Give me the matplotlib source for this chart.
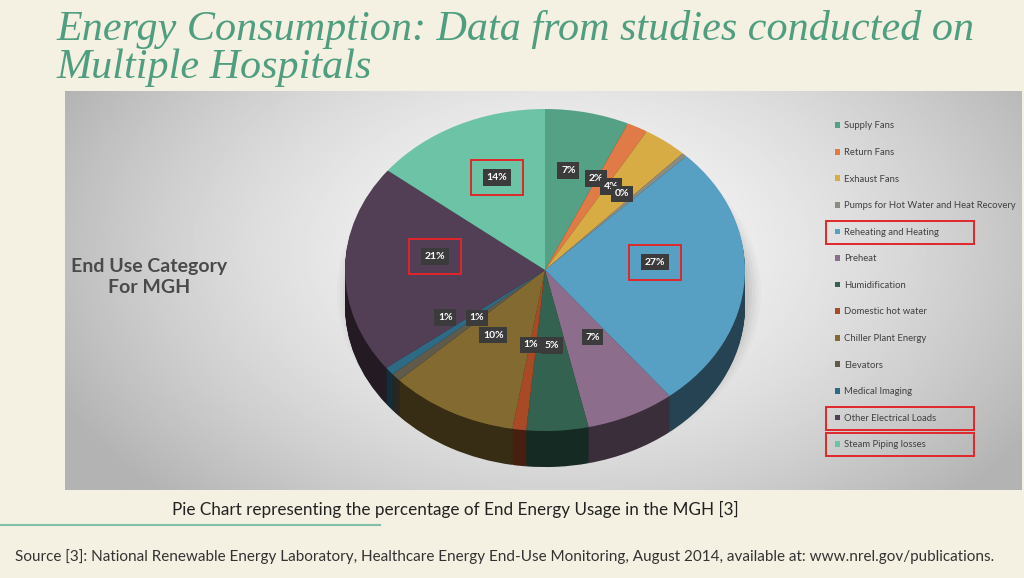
import matplotlib
matplotlib.use("Agg")
import matplotlib.pyplot as plt
import numpy as np
from matplotlib.colors import to_rgb
from matplotlib.patches import Rectangle, Ellipse

# End use categories for MGH, clockwise from the top
categories = [
    "Supply Fans",
    "Return Fans",
    "Exhaust Fans",
    "Pumps for Hot Water and Heat Recovery",
    "Reheating and Heating",
    "Preheat",
    "Humidification",
    "Domestic hot water",
    "Chiller Plant Energy",
    "Elevators",
    "Medical Imaging",
    "Other Electrical Loads",
    "Steam Piping losses",
]
shares = [6.8, 1.7, 3.6, 0.4, 26.8, 7.2, 5.0, 1.1, 10.4, 0.8, 0.8, 21.0, 14.4]
colors = [
    "#55a185", "#e07b47", "#d8ac45", "#8c8c80", "#57a0c4", "#8c6d8c",
    "#336350", "#a84a25", "#826a31", "#5f5a4a", "#2f6a85", "#533f55",
    "#6cc3a6",
]
highlighted = ["Reheating and Heating", "Other Electrical Loads", "Steam Piping losses"]
highlighted_pct = [4, 11, 12]  # slices whose labels get a red box

title_lines = ["Energy Consumption: Data from studies conducted on", "Multiple Hospitals"]
side_title = "End Use Category\nFor MGH"
caption = "Pie Chart representing the percentage of End Energy Usage in the MGH [3]"
source = ("Source [3]: National Renewable Energy Laboratory, Healthcare Energy End-Use "
          "Monitoring, August 2014, available at: www.nrel.gov/publications.")

plt.rcParams["font.family"] = "Lato"
W, H = 1024, 578
fig = plt.figure(figsize=(W / 100, H / 100), dpi=100, facecolor="#f4f0e2")

# background axes in pixel units (y down)
bg = fig.add_axes([0, 0, 1, 1])
bg.set_xlim(0, W)
bg.set_ylim(H, 0)
bg.axis("off")

# gray panel with radial gradient
px0, px1, py0, py1 = 65, 1022, 91, 490
gx, gy = np.meshgrid(np.linspace(px0, px1, 400), np.linspace(py0, py1, 200))
d = np.sqrt(((gx - 560) / 520) ** 2 + ((gy - 250) / 330) ** 2)
shade = np.clip(0.97 - 0.24 * d ** 1.6, 0.70, 1.0)
bg.imshow(shade, cmap="gray", vmin=0, vmax=1, extent=(px0, px1, py1, py0),
          aspect="auto", zorder=0)

for i, line in enumerate(title_lines):
    bg.text(57, 40 + 38 * i, line, family="Liberation Serif", style="italic",
            fontsize=30.3, color="#4f9e80", va="baseline", ha="left")

bg.text(149, 277, side_title, fontsize=14, fontweight="bold", color="#4a4a4a",
        ha="center", va="center", linespacing=1.3)
bg.text(455, 509, caption, fontsize=12.3, color="#222222", ha="center", va="center")
bg.plot([0, 380], [525, 525], color="#7fbfa5", lw=1.5)
bg.text(15, 557, source, fontsize=11, color="#333333", ha="left", va="center")

# pie axes: 1 unit = 200 px horizontally, 161 px vertically
cx, cy, rx, ry = 545, 270, 200, 161
left = (cx - 1.1 * rx) / W
bottom = (H - (cy + 1.5 * ry)) / H
ax = fig.add_axes([left, bottom, 2.2 * rx / W, 2.6 * ry / H])
ax.set_facecolor("none")

# soft shadow
for k, a in zip(np.linspace(1.06, 1.0, 5), [0.02, 0.025, 0.03, 0.035, 0.04]):
    ax.add_patch(Ellipse((0.02, -0.14), 2 * k, 2 * k, color="black", alpha=a, lw=0))

depth = 0.224
side_colors = [tuple(np.array(to_rgb(c)) * 0.42) for c in colors]
for k in np.linspace(depth, 0.01, 40):
    ax.pie(shares, colors=side_colors, startangle=90, counterclock=False,
           center=(0, -k), wedgeprops=dict(linewidth=0))

wedges, _, pcts = ax.pie(
    shares, colors=colors, startangle=90, counterclock=False,
    autopct="%1.0f%%", pctdistance=0.55,
    wedgeprops=dict(linewidth=0),
    textprops=dict(color="white", fontsize=7.5, fontweight="bold"),
)
nudge = {9: (0.07, -0.01), 10: (-0.07, -0.03)}
for i, t in enumerate(pcts):
    x, y = t.get_position()
    dx, dy = nudge.get(i, (0, 0))
    t.set_position((x + dx, y + 0.08 + dy))
    t.set_bbox(dict(boxstyle="square,pad=0.35", fc="#3b3b3b", ec="none"))

ax.set_aspect("auto")
ax.set_xlim(-1.1, 1.1)
ax.set_ylim(-1.5, 1.1)
ax.axis("off")

leg = fig.legend(
    wedges, categories, loc="upper left",
    bbox_to_anchor=(826 / W, 1 - 113 / H), frameon=False,
    fontsize=6.8, labelcolor="#404040", labelspacing=1.86,
    handlelength=0.55, handleheight=0.55, handletextpad=0.45,
)

fig.canvas.draw()
renderer = fig.canvas.get_renderer()


def red_box(x0, y0, w, h):
    fig.add_artist(Rectangle((x0 / W, y0 / H), w / W, h / H, transform=fig.transFigure,
                             fill=False, ec="#e0262a", lw=1.4, zorder=20))


for txt in leg.get_texts():
    if txt.get_text() in highlighted:
        bb = txt.get_window_extent(renderer)
        ymid = (bb.y0 + bb.y1) / 2
        red_box(826, ymid - 11.5, 148, 23)

for i in highlighted_pct:
    bb = pcts[i].get_window_extent(renderer)
    xm, ym = (bb.x0 + bb.x1) / 2, (bb.y0 + bb.y1) / 2
    red_box(xm - 26, ym - 17.5, 52, 35)

fig.savefig("out.png", dpi=100, facecolor=fig.get_facecolor())
